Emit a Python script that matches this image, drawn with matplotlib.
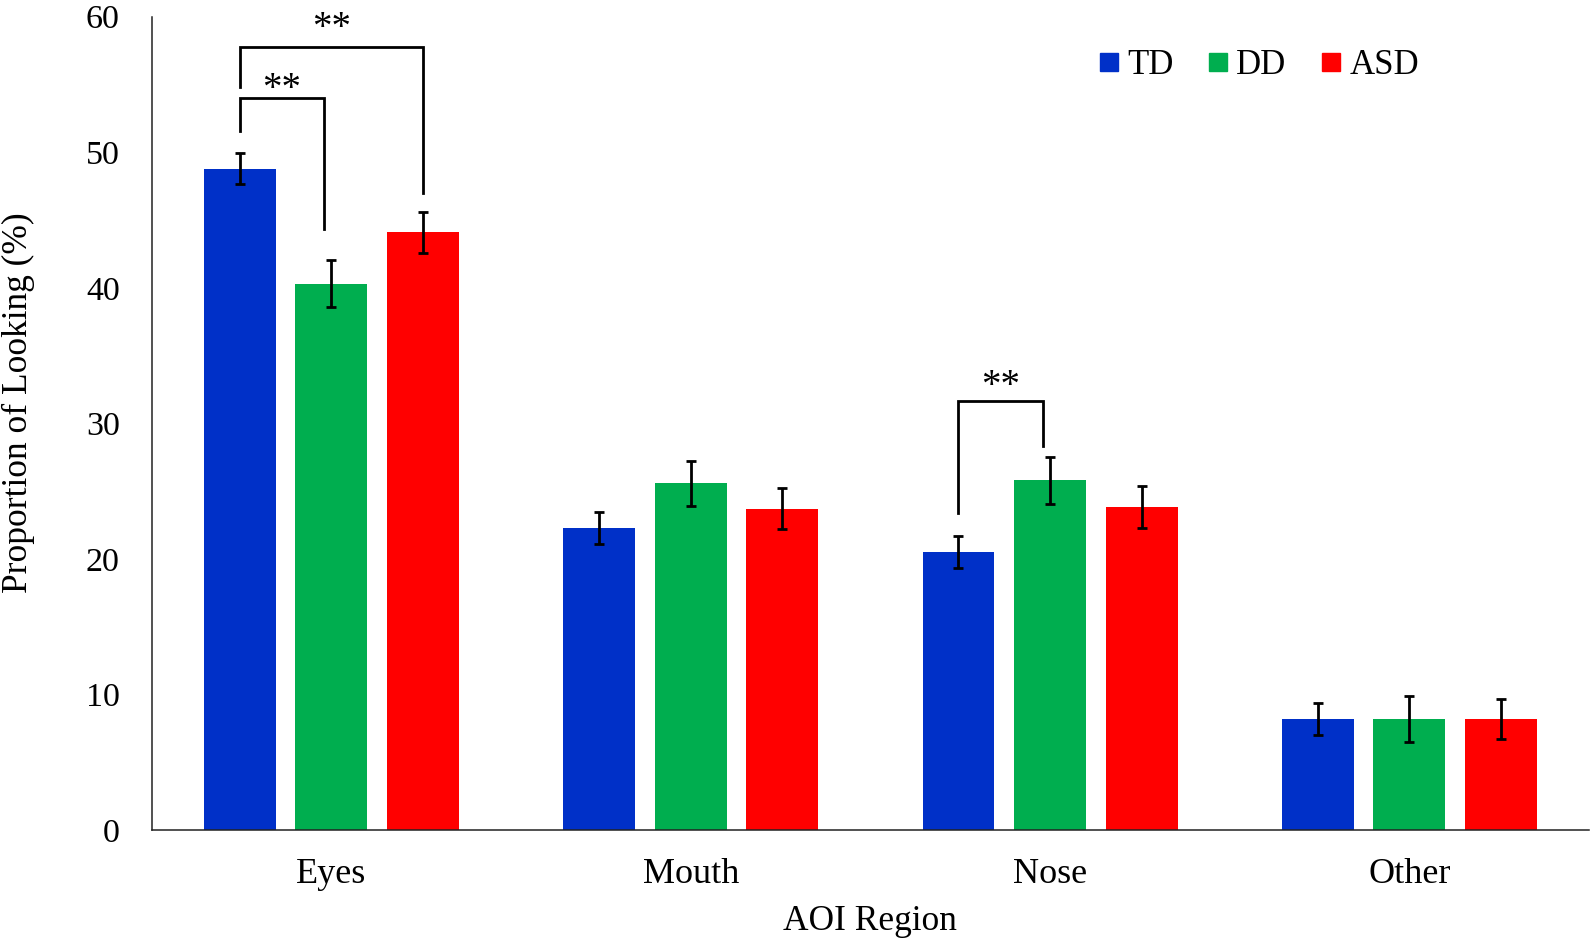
import numpy as np
import matplotlib
matplotlib.use("Agg")
import matplotlib.pyplot as plt
from matplotlib.lines import Line2D

plt.rcParams["font.family"] = ["Liberation Serif", "DejaVu Serif"]

# data
regions = ["Eyes", "Mouth", "Nose", "Other"]
groups = ["TD", "DD", "ASD"]
td_mean = [48.8, 22.3, 20.5, 8.2]
dd_mean = [40.3, 25.6, 25.8, 8.2]
asd_mean = [44.1, 23.7, 23.8, 8.2]
td_err = [1.17, 1.17, 1.18, 1.18]
dd_err = [1.72, 1.66, 1.72, 1.68]
asd_err = [1.50, 1.50, 1.55, 1.50]

# significance brackets: region, group a, group b, bracket top, end a, end b
sig_region = [0, 0, 2]
sig_a = [0, 0, 0]
sig_b = [2, 1, 1]
sig_top = [57.76, 54.04, 31.66]
sig_end_a = [54.8, 51.54, 23.42]
sig_end_b = [47.03, 44.33, 28.34]
sig_text_y = [58.45, 53.95, 32.05]
sig_label = ["**", "**", "**"]

colors = ["#0030C8", "#00AE4F", "#FF0000"]
means = [td_mean, dd_mean, asd_mean]
errs = [td_err, dd_err, asd_err]

fig = plt.figure(figsize=(15.94, 9.40), dpi=100)
ax = fig.add_axes([0.0952, 0.1170, 0.9017, 0.8652])

x = np.arange(len(regions))
step = 0.255
width = 0.2
offsets = [-step, 0.0, step]

for i, g in enumerate(groups):
    ax.bar(x + offsets[i], means[i], width, color=colors[i], label=g, zorder=2)
    ax.errorbar(x + offsets[i], means[i], yerr=errs[i], fmt="none",
                ecolor="black", elinewidth=2.0, capsize=3.3, capthick=2.0,
                zorder=3)

for r, a, b, top, ya, yb, ty, lab in zip(sig_region, sig_a, sig_b, sig_top,
                                         sig_end_a, sig_end_b, sig_text_y,
                                         sig_label):
    xa = x[r] + offsets[a]
    xb = x[r] + offsets[b] - (0.02 if b == 1 else 0.0)
    ax.plot([xa, xa, xb, xb], [ya, top, top, yb], color="black", lw=2.0,
            solid_joinstyle="miter", zorder=4)
    ax.text((xa + xb) / 2, ty, lab, ha="center", va="baseline",
            fontsize=28, zorder=5)

ax.set_xlim(-0.5, 3.5)
ax.set_ylim(0, 60)
ax.set_yticks(np.arange(0, 61, 10))
ax.set_xticks(x)
ax.set_xticklabels(regions, fontsize=26)
ax.tick_params(axis="y", length=0, pad=23, labelsize=24.5)
ax.tick_params(axis="x", length=0, pad=20)
for s in ["top", "right"]:
    ax.spines[s].set_visible(False)
for s in ["left", "bottom"]:
    ax.spines[s].set_linewidth(1.1)
    ax.spines[s].set_color("#222222")

ax.set_ylabel("Proportion of Looking (%)", fontsize=25.5)
ax.yaxis.set_label_coords(-0.0812, 0.5258)
ax.set_xlabel("AOI Region", fontsize=25.5, va="top")
ax.xaxis.set_label_coords(0.5, -0.0925)

handles = [Line2D([], [], ls="none", marker="s", markersize=13,
                  markerfacecolor=c, markeredgecolor=c) for c in colors]
ax.legend(handles, groups, loc="center", ncol=3, frameon=False, fontsize=25,
          handlelength=0.55, handletextpad=0.25, columnspacing=1.0,
          bbox_to_anchor=(0.790, 0.930), bbox_transform=fig.transFigure)

fig.savefig("out.png", dpi=100)
